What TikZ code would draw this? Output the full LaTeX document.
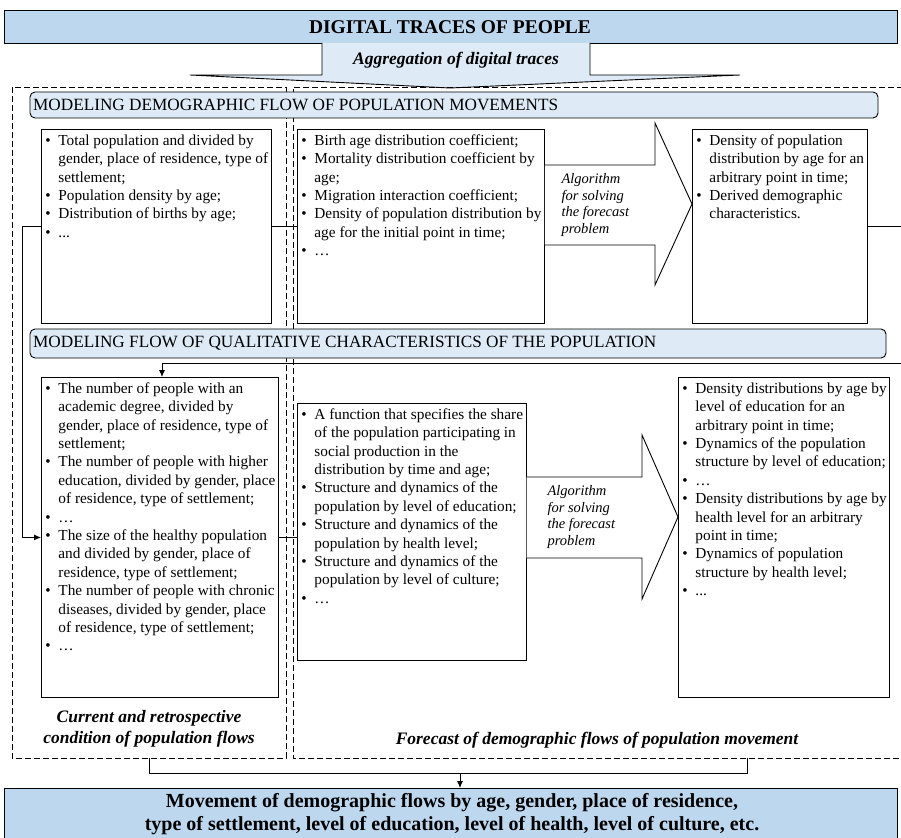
\documentclass[tikz,border=0pt]{standalone}
\usepackage{fontspec}
\setmainfont{Liberation Serif}
\usetikzlibrary{arrows.meta}
\definecolor{blueA}{HTML}{BDD7EE}
\definecolor{blueB}{HTML}{DEEBF7}
\newcommand\bi[1]{\hbox{\strut\makebox[14pt][l]{\hspace{1pt}\textbullet}#1}}
\newcommand\bc[1]{\hbox{\strut\hspace{14pt}#1}}
\newcommand\lst[3]{\parbox[c][#2pt][t]{#1pt}{\fontsize{15.3}{18.4}\selectfont\vspace*{3pt}#3}}
\tikzset{
  listbox/.style={draw, line width=0.9pt, inner xsep=3pt, inner ysep=0pt, anchor=north west},
  bar/.style={draw, line width=0.9pt, rounded corners=5pt, fill=blueB},
  bartext/.style={font=\fontsize{17.2}{20}\selectfont, anchor=west, inner xsep=0pt},
  bigbox/.style={draw, line width=0.9pt, fill=blueA},
  dashbox/.style={line width=0.8pt, dash pattern=on 6pt off 3pt},
  conn/.style={line width=0.9pt},
  tip/.style={-{Latex[length=7pt,width=6pt]}},
  blockarrow/.style={draw, line width=0.9pt, fill=white},
  algo/.style={font=\fontsize{14.5}{16.5}\selectfont\itshape, align=left, anchor=west},
  caption/.style={font=\fontsize{17.5}{20.5}\selectfont\bfseries\itshape, align=center}
}
\begin{document}
\begin{tikzpicture}[x=1pt,y=-1pt]
\useasboundingbox (0,0) rectangle (901,837);
% title
\draw[bigbox] (4,10) rectangle (897,43);
\node[font=\fontsize{19.5}{23}\selectfont\bfseries] (title) at (450,27) {DIGITAL TRACES OF PEOPLE};
% aggregation arrow
\draw[line width=0.9pt, fill=blueB] (322,43) -- (322,75) -- (190,75) -- (450,88) -- (740,75) -- (590,75) -- (590,43);
\node[font=\fontsize{17.5}{20}\selectfont\bfseries\itshape] (agg) at (456,60) {Aggregation of digital traces};
% dashed regions
\draw[dashbox] (12,87) rectangle (286,758);
\draw[dashbox] (903,87) -- (293,87) -- (293,758) -- (903,758);
% bar 1
\draw[bar] (30,92) rectangle (878,118);
\node[bartext] (bar1) at (33,105) {MODELING DEMOGRAPHIC FLOW OF POPULATION MOVEMENTS};
% row 1 boxes
\node[listbox] (b1) at (41,129) {\lst{236}{194}{%
\bi{Total population and divided by}
\bc{gender, place of residence, type of}
\bc{settlement;}
\bi{Population density by age;}
\bi{Distribution of births by age;}
\bi{...}}};
\node[listbox] (b2) at (297,129) {\lst{245}{194}{%
\bi{Birth age distribution coefficient;}
\bi{Mortality distribution coefficient by}
\bc{age;}
\bi{Migration interaction coefficient;}
\bi{Density of population distribution by}
\bc{age for the initial point in time;}
\bi{…}}};
\node[listbox] (b3) at (692,129) {\lst{178}{194}{%
\bi{Density of population}
\bc{distribution by age for an}
\bc{arbitrary point in time;}
\bi{Derived demographic}
\bc{characteristics.}}};
% block arrow 1
\draw[blockarrow] (b2.east |- 0,165) -- (655,165) -- (655,123) -- (692,204) -- (655,285) -- (655,245) -- (b2.east |- 0,245);
\node[algo] (alg1) at (558,205) {Algorithm\\for solving\\the forecast\\problem};
% bar 2
\draw[bar] (30,329) rectangle (886,358);
\node[bartext] (bar2) at (33,343) {MODELING FLOW OF QUALITATIVE CHARACTERISTICS OF THE POPULATION};
% row 2 boxes
\node[listbox] (b4) at (41,377) {\lst{236}{320}{%
\bi{The number of people with an}
\bc{academic degree, divided by}
\bc{gender, place of residence, type of}
\bc{settlement;}
\bi{The number of people with higher}
\bc{education, divided by gender, place}
\bc{of residence, type of settlement;}
\bi{…}
\bi{The size of the healthy population}
\bc{and divided by gender, place of}
\bc{residence, type of settlement;}
\bi{The number of people with chronic}
\bc{diseases, divided by gender, place}
\bc{of residence, type of settlement;}
\bi{…}}};
\node[listbox] (b5) at (297,403) {\lst{230}{257}{%
\bi{A function that specifies the share}
\bc{of the population participating in}
\bc{social production in the}
\bc{distribution by time and age;}
\bi{Structure and dynamics of the}
\bc{population by level of education;}
\bi{Structure and dynamics of the}
\bc{population by health level;}
\bi{Structure and dynamics of the}
\bc{population by level of culture;}
\bi{…}}};
\node[listbox] (b6) at (678,377) {\lst{214}{320}{%
\bi{Density distributions by age by}
\bc{level of education for an}
\bc{arbitrary point in time;}
\bi{Dynamics of the population}
\bc{structure by level of education;}
\bi{…}
\bi{Density distributions by age by}
\bc{health level for an arbitrary}
\bc{point in time;}
\bi{Dynamics of population}
\bc{structure by health level;}
\bi{...}}};
% block arrow 2
\draw[blockarrow] (b5.east |- 0,477) -- (642,477) -- (642,435) -- (678,517) -- (642,599) -- (642,558) -- (b5.east |- 0,558);
\node[algo] (alg2) at (544,517) {Algorithm\\for solving\\the forecast\\problem};
% connectors
\draw[conn] (b1.east) -- (b2.west);
\draw[conn, tip] (b1.west) -- ++(-19,0) |- (b4.west);
\coordinate (rtop) at (903,0 |- b3.east);
\coordinate (rbot) at (903,363);
\draw[conn, tip] (b3.east) -- (rtop) -- (rbot) -- (162,363) -- (162,0 |- b4.north);
\draw[conn] (b4.east) -- (b4.east -| b5.west);
% captions
\node[caption] (cap1) at (149,729) {Current and retrospective\\condition of population flows};
\node[caption] (cap2) at (597,740) {Forecast of demographic flows of population movement};
% bottom
\draw[bigbox] (4,788) rectangle (897,840);
\node[font=\fontsize{20}{23}\selectfont\bfseries, align=center] (bottom) at (452,814) {Movement of demographic flows by age, gender, place of residence,\\type of settlement, level of education, level of health, level of culture, etc.};
\coordinate (lb) at (149,758);
\coordinate (rb) at (747,758);
\coordinate (mid) at (460,773);
\draw[conn] (lb) |- (mid) -| (rb);
\draw[conn, tip] (mid) -- (460,788);
\end{tikzpicture}
\end{document}
